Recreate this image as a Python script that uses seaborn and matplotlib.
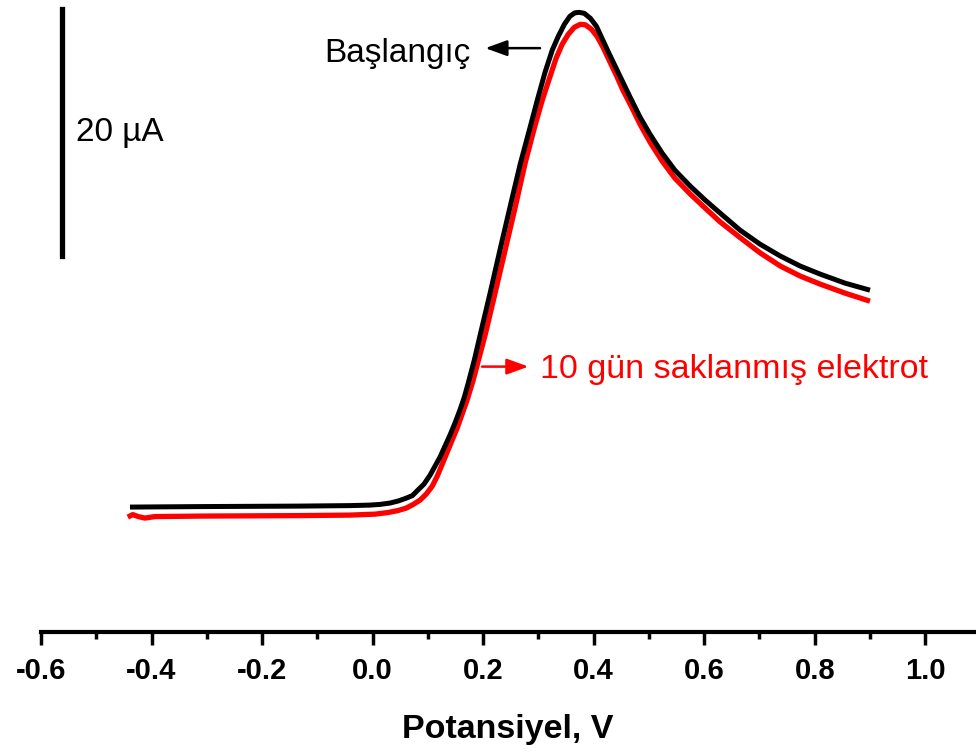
import matplotlib
matplotlib.use("Agg")
import matplotlib.pyplot as plt
import seaborn as sns
import pandas as pd

sns.set_theme(style="white")
plt.rcParams["font.family"] = ["Liberation Sans", "DejaVu Sans"]

# Linear sweep voltammograms (potential in V, current in µA, arbitrary offset)
pot_initial = [-0.439, -0.312, -0.131, -0.041, -0.005, 0.014, 0.032, 0.046, 0.059,
               0.072, 0.082, 0.093, 0.104, 0.113, 0.122, 0.131, 0.140, 0.149,
               0.158, 0.166, 0.173, 0.184, 0.195, 0.213, 0.231, 0.249, 0.267,
               0.285, 0.298, 0.312, 0.325, 0.336, 0.347, 0.357, 0.366, 0.374,
               0.383, 0.394, 0.405, 0.415, 0.426, 0.439, 0.452, 0.466, 0.484,
               0.502, 0.524, 0.547, 0.575, 0.602, 0.629, 0.665, 0.701, 0.738,
               0.774, 0.810, 0.855, 0.900]
cur_initial = [10.12, 10.16, 10.20, 10.24, 10.28, 10.34, 10.45, 10.61, 10.81,
               11.05, 11.50, 11.98, 12.71, 13.44, 14.17, 15.06, 15.95, 16.92,
               17.98, 19.03, 20.16, 22.02, 24.13, 27.53, 31.05, 34.49, 37.89,
               40.89, 43.08, 45.34, 47.13, 48.26, 49.23, 49.88, 50.16, 50.20,
               50.12, 49.72, 49.07, 48.10, 47.04, 45.83, 44.62, 43.32, 41.70,
               40.32, 38.79, 37.41, 36.11, 34.98, 33.93, 32.55, 31.42, 30.45,
               29.64, 28.99, 28.26, 27.69]

pot_stored = [-0.443, -0.434, -0.424, -0.412, -0.394, -0.312, -0.131, -0.041, 0.005,
              0.028, 0.046, 0.061, 0.073, 0.086, 0.097, 0.108, 0.117, 0.126,
              0.135, 0.144, 0.153, 0.162, 0.171, 0.182, 0.193, 0.204, 0.222,
              0.240, 0.258, 0.276, 0.294, 0.307, 0.320, 0.332, 0.343, 0.354,
              0.365, 0.376, 0.385, 0.396, 0.406, 0.417, 0.428, 0.441, 0.453,
              0.468, 0.484, 0.502, 0.524, 0.547, 0.575, 0.602, 0.629, 0.665,
              0.701, 0.738, 0.774, 0.810, 0.855, 0.900]
cur_stored = [9.31, 9.51, 9.35, 9.23, 9.35, 9.39, 9.43, 9.47, 9.55,
              9.68, 9.84, 10.04, 10.32, 10.69, 11.17, 11.82, 12.63, 13.60,
              14.57, 15.55, 16.52, 17.65, 18.79, 20.40, 22.27, 24.13, 27.53,
              30.97, 34.41, 37.98, 41.05, 43.08, 44.86, 46.48, 47.61, 48.42,
              48.99, 49.23, 49.19, 48.83, 48.26, 47.37, 46.32, 45.10, 43.89,
              42.59, 41.13, 39.68, 38.14, 36.76, 35.47, 34.33, 33.22, 31.95,
              30.72, 29.64, 28.83, 28.18, 27.45, 26.80]

label_initial = "Başlangıç"
label_stored = "10 gün saklanmış elektrot"
scale_current = 20.0          # µA represented by the scale bar
scale_top = 50.5
major_ticks = [-0.6, -0.4, -0.2, 0.0, 0.2, 0.4, 0.6, 0.8, 1.0]
minor_ticks = [-0.5, -0.3, -0.1, 0.1, 0.3, 0.5, 0.7, 0.9]

df_initial = pd.DataFrame({"E": pot_initial, "I": cur_initial})
df_stored = pd.DataFrame({"E": pot_stored, "I": cur_stored})

fig = plt.figure(figsize=(9.76, 7.52), dpi=100)
ax = fig.add_axes([41 / 976, 120 / 752, 934 / 976, 632 / 752])

sns.lineplot(data=df_stored, x="E", y="I", ax=ax, color="#ff0000", lw=3.8,
             sort=False, estimator=None, solid_capstyle="butt",
             solid_joinstyle="round")
sns.lineplot(data=df_initial, x="E", y="I", ax=ax, color="black", lw=3.6,
             sort=False, estimator=None, solid_capstyle="butt",
             solid_joinstyle="round")

ax.set_xlim(-0.6, 1.09)
ax.set_ylim(0, 51.2)

# Scale bar in place of a current axis
ax.plot([-0.562, -0.562], [scale_top - scale_current, scale_top], color="black",
        lw=3.8, solid_capstyle="projecting")
ax.text(-0.536, scale_top - scale_current / 2, "20 µA", fontsize=24,
        ha="left", va="center", color="black")

# Curve labels with arrows
arrow_style = "-|>,head_length=1.1,head_width=0.4"
ax.annotate("", xy=(0.204, 47.3), xytext=(0.303, 47.3),
            arrowprops=dict(arrowstyle=arrow_style, color="black", lw=1.8,
                            shrinkA=0, shrinkB=0))
ax.text(0.177, 46.9, label_initial, fontsize=24, ha="right", va="center",
        color="black")
ax.annotate("", xy=(0.282, 21.5), xytext=(0.198, 21.5),
            arrowprops=dict(arrowstyle=arrow_style, color="#ff0000", lw=1.8,
                            shrinkA=0, shrinkB=0))
ax.text(0.303, 21.3, label_stored, fontsize=24.5, ha="left", va="center",
        color="#ff0000")

# Axis styling: bottom spine only
for side in ["left", "right", "top"]:
    ax.spines[side].set_visible(False)
ax.spines["bottom"].set_linewidth(3.0)
ax.spines["bottom"].set_color("black")
ax.set_yticks([])
ax.set_xticks(major_ticks)
ax.set_xticklabels([f"{t:.1f}" for t in major_ticks], fontsize=21,
                   fontweight="bold", color="black")
ax.set_xticks(minor_ticks, minor=True)
ax.tick_params(axis="x", which="major", direction="out", length=9, width=2.5,
               pad=9, bottom=True, colors="black")
ax.tick_params(axis="x", which="minor", direction="out", length=5, width=2.5,
               bottom=True, colors="black")
ax.set_xlabel("Potansiyel, V", fontsize=24.5, fontweight="bold", color="black")
ax.xaxis.set_label_coords(0.5, -0.13)
ax.set_ylabel("")
ax.patch.set_alpha(0)

fig.savefig("out.png", dpi=100)
